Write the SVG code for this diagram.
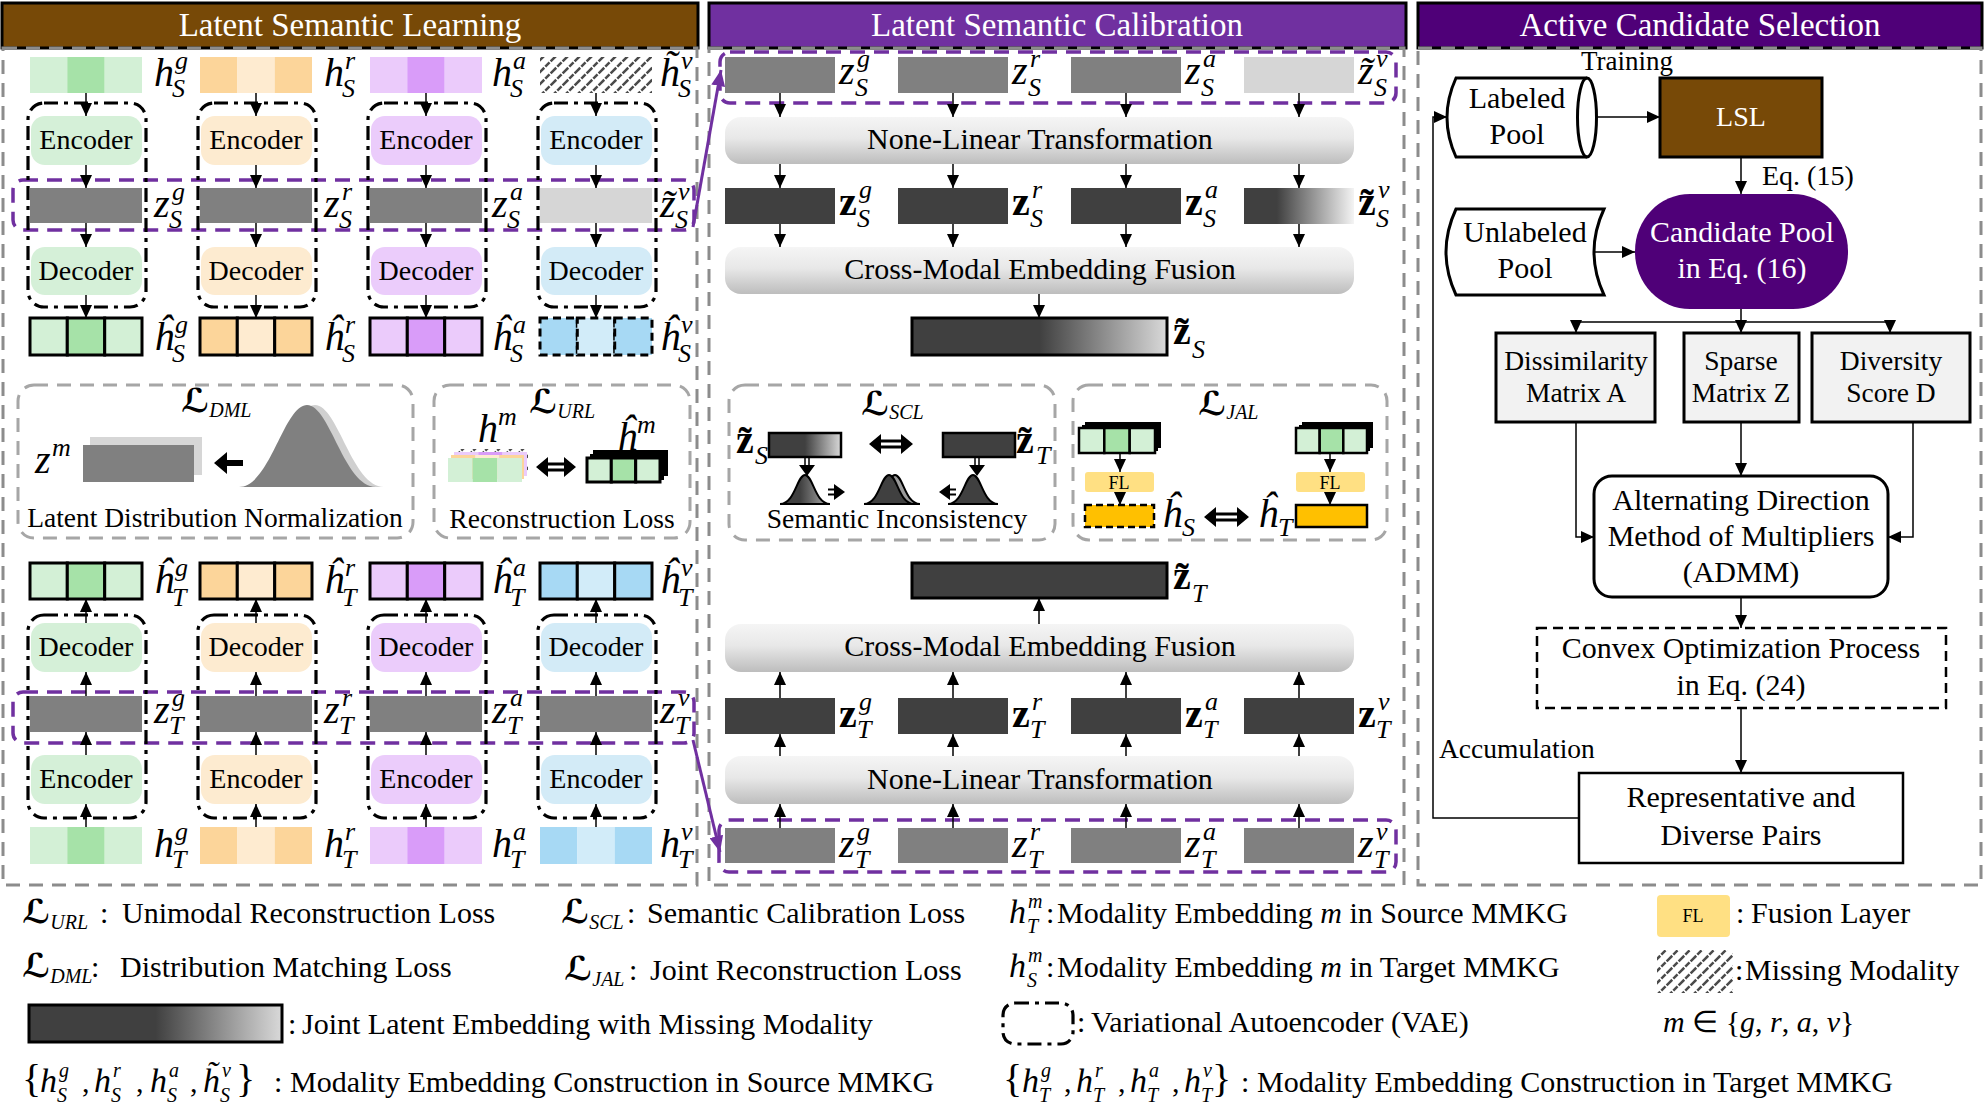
<svg xmlns="http://www.w3.org/2000/svg" width="1986" height="1107" viewBox="0 0 1986 1107">
<defs>
<style>
text{font-family:"Liberation Serif","Times New Roman",serif;fill:#000}
.ttl{font-size:33px;fill:#fff;text-anchor:middle}
.c27{font-size:27.5px;text-anchor:middle}
.c28{font-size:28px;text-anchor:middle}
.c30{font-size:30px;text-anchor:middle}
.lg{font-size:30px}
.mi{font-style:italic;font-size:40px}
.mb{font-weight:bold;font-size:40px}
.sc{font-style:italic;font-weight:normal;font-size:26px}
.lh{font-style:italic;font-size:34px}
.ls{font-style:italic;font-size:20px}
.br{font-size:40px}
.cal{font-family:"DejaVu Serif","DejaVu Sans",serif;font-weight:bold;font-style:italic;font-size:33px}
.cs{font-style:italic;font-weight:normal;font-size:20px}
.panel{fill:none;stroke:#8C8C8C;stroke-width:3;stroke-dasharray:14 9}
.box{fill:none;stroke:#A6A6A6;stroke-width:3;stroke-dasharray:14 9}
.vae{fill:none;stroke:#000;stroke-width:3.2;stroke-dasharray:14 6 4 6}
.pd{fill:none;stroke:#7030A0;stroke-width:3.5;stroke-dasharray:15 9}
.ar{stroke:#000;stroke-width:1.5;fill:none;marker-end:url(#ah)}
.pa{stroke:#7030A0;stroke-width:3;fill:none;marker-end:url(#ap)}
.zg{fill:#808080}
.zl{fill:#D6D6D6}
.zd{fill:#404040}
.tb{stroke:#000;stroke-width:3}
.gl{fill:#D3F0D6}.gm{fill:#A6E2A8}
.ro{fill:#FCD59A}.rl{fill:#FEEBD0}
.al{fill:#EBCBFB}.am{fill:#D99CF9}
.vb{fill:#A7D9F4}.vl{fill:#D2ECF9}
.eg{fill:#D5F0D8}.er{fill:#FDEBD0}.ea{fill:#EBCCFB}.ev{fill:#D3EBF7}
.nb{fill:url(#gbox)}
.ab{fill:#F2F2F2;stroke:#000;stroke-width:3}
.fl{fill:#FFE083}
.fo{fill:#FFC000}
.wt{fill:#fff}
</style>
<marker id="ah" markerUnits="userSpaceOnUse" markerWidth="13" markerHeight="12" refX="13" refY="6" orient="auto"><path d="M0,0L13,6L0,12Z" fill="#000"/></marker>
<marker id="ap" markerUnits="userSpaceOnUse" markerWidth="16" markerHeight="14" refX="16" refY="7" orient="auto"><path d="M0,0L16,7L0,14Z" fill="#7030A0"/></marker>
<linearGradient id="gbox" x1="0" y1="0" x2="0" y2="1"><stop offset="0" stop-color="#F5F5F5"/><stop offset="0.45" stop-color="#E8E8E8"/><stop offset="1" stop-color="#BDBDBD"/></linearGradient>
<linearGradient id="gjoint" x1="0" y1="0" x2="1" y2="0"><stop offset="0" stop-color="#404040"/><stop offset="0.5" stop-color="#404040"/><stop offset="1" stop-color="#D9D9D9"/></linearGradient>
<linearGradient id="gmiss" x1="0" y1="0" x2="1" y2="0"><stop offset="0" stop-color="#404040"/><stop offset="0.3" stop-color="#404040"/><stop offset="1" stop-color="#F4F4F4"/></linearGradient>
<linearGradient id="gbell" x1="0" y1="0" x2="1" y2="0"><stop offset="0" stop-color="#404040"/><stop offset="0.4" stop-color="#404040"/><stop offset="1" stop-color="#B0B0B0"/></linearGradient>
<pattern id="hatch" patternUnits="userSpaceOnUse" width="12" height="12"><path d="M0,12L12,0M-2,2L2,-2M10,14L14,10" stroke="#4A4A4A" stroke-width="2.5" stroke-dasharray="6 1.5"/></pattern>
</defs>
<rect x="0" y="0" width="1986" height="1107" fill="#fff"/>

<g id="title-lsl"><rect x="2" y="3" width="696" height="45" fill="#774907" stroke="#000" stroke-width="3"/><text class="ttl" x="350" y="36">Latent Semantic Learning</text></g>
<g id="title-lsc"><rect x="709" y="3" width="697" height="45" fill="#7030A0" stroke="#000" stroke-width="3"/><text class="ttl" x="1057" y="36">Latent Semantic Calibration</text></g>
<g id="title-acs"><rect x="1418" y="3" width="564" height="45" fill="#4F0078" stroke="#000" stroke-width="3"/><text class="ttl" x="1700" y="36">Active Candidate Selection</text></g>
<g id="panels">
<rect class="panel" x="3" y="48" width="694" height="837"/>
<rect class="panel" x="709" y="48" width="695" height="837"/>
<rect class="panel" x="1418" y="48" width="563" height="837"/>
</g>

<!-- LSL source -->
<g id="src-purple"><rect class="pd" x="13" y="180" width="681" height="50" rx="10"/></g>
<g id="src-vae">
<rect class="vae" x="28" y="103" width="118" height="204" rx="16"/>
<rect class="vae" x="198" y="103" width="118" height="204" rx="16"/>
<rect class="vae" x="368" y="103" width="118" height="204" rx="16"/>
<rect class="vae" x="538" y="103" width="118" height="204" rx="16"/>
</g>
<g id="src-in-g"><rect class="gl" x="30" y="57" width="37.4" height="36"/><rect class="gm" x="67.3" y="57" width="37.4" height="36"/><rect class="gl" x="104.7" y="57" width="37.3" height="36"/></g>
<g id="src-in-r"><rect class="ro" x="200" y="57" width="37.4" height="36"/><rect class="rl" x="237.3" y="57" width="37.4" height="36"/><rect class="ro" x="274.7" y="57" width="37.3" height="36"/></g>
<g id="src-in-a"><rect class="al" x="370" y="57" width="37.4" height="36"/><rect class="am" x="407.3" y="57" width="37.4" height="36"/><rect class="al" x="444.7" y="57" width="37.3" height="36"/></g>
<g id="src-in-v"><rect x="540" y="57" width="112" height="36" fill="url(#hatch)"/></g>
<g id="src-enc-g"><rect class="eg" x="31" y="116" width="111" height="49" rx="14"/><text class="c28" x="86" y="149">Encoder</text></g>
<g id="src-enc-r"><rect class="er" x="201" y="116" width="111" height="49" rx="14"/><text class="c28" x="256" y="149">Encoder</text></g>
<g id="src-enc-a"><rect class="ea" x="371" y="116" width="111" height="49" rx="14"/><text class="c28" x="426" y="149">Encoder</text></g>
<g id="src-enc-v"><rect class="ev" x="541" y="116" width="111" height="49" rx="14"/><text class="c28" x="596" y="149">Encoder</text></g>
<g id="src-z"><rect class="zg" x="30" y="188" width="112" height="35"/><rect class="zg" x="200" y="188" width="112" height="35"/><rect class="zg" x="370" y="188" width="112" height="35"/><rect class="zl" x="540" y="188" width="112" height="35"/></g>
<g id="src-dec-g"><rect class="eg" x="31" y="247" width="111" height="48" rx="14"/><text class="c28" x="86" y="280">Decoder</text></g>
<g id="src-dec-r"><rect class="er" x="201" y="247" width="111" height="48" rx="14"/><text class="c28" x="256" y="280">Decoder</text></g>
<g id="src-dec-a"><rect class="ea" x="371" y="247" width="111" height="48" rx="14"/><text class="c28" x="426" y="280">Decoder</text></g>
<g id="src-dec-v"><rect class="ev" x="541" y="247" width="111" height="48" rx="14"/><text class="c28" x="596" y="280">Decoder</text></g>
<g id="src-out-g" class="tb"><rect class="gl" x="30" y="318" width="37.3" height="37"/><rect class="gm" x="67.3" y="318" width="37.4" height="37"/><rect class="gl" x="104.7" y="318" width="37.3" height="37"/></g>
<g id="src-out-r" class="tb"><rect class="ro" x="200" y="318" width="37.3" height="37"/><rect class="rl" x="237.3" y="318" width="37.4" height="37"/><rect class="ro" x="274.7" y="318" width="37.3" height="37"/></g>
<g id="src-out-a" class="tb"><rect class="al" x="370" y="318" width="37.3" height="37"/><rect class="am" x="407.3" y="318" width="37.4" height="37"/><rect class="al" x="444.7" y="318" width="37.3" height="37"/></g>
<g id="src-out-v" stroke="#000" stroke-width="3" stroke-dasharray="8 5"><rect class="vb" x="540" y="318" width="37.3" height="37"/><rect class="vl" x="577.3" y="318" width="37.4" height="37"/><rect class="vb" x="614.7" y="318" width="37.3" height="37"/></g>
<g id="src-labels">
<text class="mi" x="154" y="86">h<tspan class="sc" x="175" y="69">g</tspan><tspan class="sc" x="172" y="97">S</tspan></text>
<text class="mi" x="324" y="86">h<tspan class="sc" x="345" y="69">r</tspan><tspan class="sc" x="342" y="97">S</tspan></text>
<text class="mi" x="492" y="86">h<tspan class="sc" x="513" y="69">a</tspan><tspan class="sc" x="510" y="97">S</tspan></text>
<text class="mi" x="660" y="86">h̃<tspan class="sc" x="681" y="69">v</tspan><tspan class="sc" x="678" y="97">S</tspan></text>
<text class="mi" x="154" y="217">z<tspan class="sc" x="172" y="200">g</tspan><tspan class="sc" x="169" y="228">S</tspan></text>
<text class="mi" x="324" y="217">z<tspan class="sc" x="342" y="200">r</tspan><tspan class="sc" x="339" y="228">S</tspan></text>
<text class="mi" x="492" y="217">z<tspan class="sc" x="510" y="200">a</tspan><tspan class="sc" x="507" y="228">S</tspan></text>
<text class="mi" x="660" y="217">z̃<tspan class="sc" x="678" y="200">v</tspan><tspan class="sc" x="675" y="228">S</tspan></text>
<text class="mi" x="154" y="350">ĥ<tspan class="sc" x="175" y="333">g</tspan><tspan class="sc" x="172" y="362">S</tspan></text>
<text class="mi" x="324" y="350">ĥ<tspan class="sc" x="345" y="333">r</tspan><tspan class="sc" x="342" y="362">S</tspan></text>
<text class="mi" x="492" y="350">ĥ<tspan class="sc" x="513" y="333">a</tspan><tspan class="sc" x="510" y="362">S</tspan></text>
<text class="mi" x="660" y="350">ĥ<tspan class="sc" x="681" y="333">v</tspan><tspan class="sc" x="678" y="362">S</tspan></text>
</g>

<!-- DML / URL -->
<g id="dml">
<rect class="box" x="18" y="385" width="395" height="153" rx="16"/>
<text x="181" y="412"><tspan class="cal">ℒ</tspan><tspan class="cs" dy="5">DML</tspan></text>
<text class="mi" x="35" y="473">z<tspan class="sc" x="52" y="456">m</tspan></text>
<rect x="90" y="437" width="112" height="38" fill="#D6D6D6"/>
<rect x="83" y="445" width="111" height="37" fill="#808080"/>
<path d="M214,463L227,452V460H243V466H227V474Z" fill="#000"/>
<path d="M247,487C278,487 292,405 315,405C338,405 352,487 384,487Z" fill="#D0D0D0"/>
<path d="M239,487C270,487 284,405 307,405C330,405 344,487 376,487Z" fill="#808080"/>
<text class="c27" x="215" y="527">Latent Distribution Normalization</text>
</g>
<g id="url">
<rect class="box" x="434" y="385" width="256" height="153" rx="16"/>
<text x="529" y="413"><tspan class="cal">ℒ</tspan><tspan class="cs" dy="5">URL</tspan></text>
<text class="mi" x="478" y="442">h<tspan class="sc" x="498" y="425">m</tspan></text>
<text class="mi" x="617" y="450">ĥ<tspan class="sc" x="637" y="433">m</tspan></text>
<rect x="456" y="449" width="72" height="24" fill="url(#hatch)"/>
<rect class="al" x="454" y="452" width="24.3" height="24"/><rect class="am" x="478.3" y="452" width="24.3" height="24"/><rect class="al" x="502.6" y="452" width="24.4" height="24"/>
<rect class="ro" x="451" y="455" width="24.3" height="24"/><rect class="rl" x="475.3" y="455" width="24.3" height="24"/><rect class="ro" x="499.6" y="455" width="24.4" height="24"/>
<rect class="gl" x="448" y="458" width="24.6" height="24"/><rect class="gm" x="472.6" y="458" width="24.7" height="24"/><rect class="gl" x="497.3" y="458" width="24.7" height="24"/>
<rect x="593" y="450" width="75" height="26" fill="#000"/>
<rect x="590" y="454" width="74" height="26" fill="#000"/>
<g class="tb"><rect class="gl" x="587" y="458" width="24.3" height="24"/><rect class="gm" x="611.3" y="458" width="24.4" height="24"/><rect class="gl" x="635.7" y="458" width="24.3" height="24"/></g>
<path d="M547,464H565M547,470H565" stroke="#000" stroke-width="3"/><path d="M536,467L548,457V477ZM576,467L564,457V477Z" fill="#000"/>
<text class="c27" x="562" y="528">Reconstruction Loss</text>
</g>

<!-- LSL target -->
<g id="tgt-purple"><rect class="pd" x="13" y="692" width="681" height="51" rx="10"/></g>
<g id="tgt-vae">
<rect class="vae" x="28" y="615" width="118" height="203" rx="16"/>
<rect class="vae" x="198" y="615" width="118" height="203" rx="16"/>
<rect class="vae" x="368" y="615" width="118" height="203" rx="16"/>
<rect class="vae" x="538" y="615" width="118" height="203" rx="16"/>
</g>
<g id="tgt-out-g" class="tb"><rect class="gl" x="30" y="563" width="37.3" height="36"/><rect class="gm" x="67.3" y="563" width="37.4" height="36"/><rect class="gl" x="104.7" y="563" width="37.3" height="36"/></g>
<g id="tgt-out-r" class="tb"><rect class="ro" x="200" y="563" width="37.3" height="36"/><rect class="rl" x="237.3" y="563" width="37.4" height="36"/><rect class="ro" x="274.7" y="563" width="37.3" height="36"/></g>
<g id="tgt-out-a" class="tb"><rect class="al" x="370" y="563" width="37.3" height="36"/><rect class="am" x="407.3" y="563" width="37.4" height="36"/><rect class="al" x="444.7" y="563" width="37.3" height="36"/></g>
<g id="tgt-out-v" class="tb"><rect class="vb" x="540" y="563" width="37.3" height="36"/><rect class="vl" x="577.3" y="563" width="37.4" height="36"/><rect class="vb" x="614.7" y="563" width="37.3" height="36"/></g>
<g id="tgt-dec-g"><rect class="eg" x="31" y="623" width="111" height="49" rx="14"/><text class="c28" x="86" y="656">Decoder</text></g>
<g id="tgt-dec-r"><rect class="er" x="201" y="623" width="111" height="49" rx="14"/><text class="c28" x="256" y="656">Decoder</text></g>
<g id="tgt-dec-a"><rect class="ea" x="371" y="623" width="111" height="49" rx="14"/><text class="c28" x="426" y="656">Decoder</text></g>
<g id="tgt-dec-v"><rect class="ev" x="541" y="623" width="111" height="49" rx="14"/><text class="c28" x="596" y="656">Decoder</text></g>
<g id="tgt-z"><rect class="zg" x="30" y="696" width="112" height="36"/><rect class="zg" x="200" y="696" width="112" height="36"/><rect class="zg" x="370" y="696" width="112" height="36"/><rect class="zg" x="540" y="696" width="112" height="36"/></g>
<g id="tgt-enc-g"><rect class="eg" x="31" y="755" width="111" height="49" rx="14"/><text class="c28" x="86" y="788">Encoder</text></g>
<g id="tgt-enc-r"><rect class="er" x="201" y="755" width="111" height="49" rx="14"/><text class="c28" x="256" y="788">Encoder</text></g>
<g id="tgt-enc-a"><rect class="ea" x="371" y="755" width="111" height="49" rx="14"/><text class="c28" x="426" y="788">Encoder</text></g>
<g id="tgt-enc-v"><rect class="ev" x="541" y="755" width="111" height="49" rx="14"/><text class="c28" x="596" y="788">Encoder</text></g>
<g id="tgt-in-g"><rect class="gl" x="30" y="827" width="37.4" height="37"/><rect class="gm" x="67.3" y="827" width="37.4" height="37"/><rect class="gl" x="104.7" y="827" width="37.3" height="37"/></g>
<g id="tgt-in-r"><rect class="ro" x="200" y="827" width="37.4" height="37"/><rect class="rl" x="237.3" y="827" width="37.4" height="37"/><rect class="ro" x="274.7" y="827" width="37.3" height="37"/></g>
<g id="tgt-in-a"><rect class="al" x="370" y="827" width="37.4" height="37"/><rect class="am" x="407.3" y="827" width="37.4" height="37"/><rect class="al" x="444.7" y="827" width="37.3" height="37"/></g>
<g id="tgt-in-v"><rect class="vb" x="540" y="827" width="37.4" height="37"/><rect class="vl" x="577.3" y="827" width="37.4" height="37"/><rect class="vb" x="614.7" y="827" width="37.3" height="37"/></g>
<g id="tgt-labels">
<text class="mi" x="154" y="593">ĥ<tspan class="sc" x="175" y="576">g</tspan><tspan class="sc" x="172" y="606">T</tspan></text>
<text class="mi" x="324" y="593">ĥ<tspan class="sc" x="345" y="576">r</tspan><tspan class="sc" x="342" y="606">T</tspan></text>
<text class="mi" x="492" y="593">ĥ<tspan class="sc" x="513" y="576">a</tspan><tspan class="sc" x="510" y="606">T</tspan></text>
<text class="mi" x="660" y="593">ĥ<tspan class="sc" x="681" y="576">v</tspan><tspan class="sc" x="678" y="606">T</tspan></text>
<text class="mi" x="154" y="723">z<tspan class="sc" x="172" y="706">g</tspan><tspan class="sc" x="169" y="734">T</tspan></text>
<text class="mi" x="324" y="723">z<tspan class="sc" x="342" y="706">r</tspan><tspan class="sc" x="339" y="734">T</tspan></text>
<text class="mi" x="492" y="723">z<tspan class="sc" x="510" y="706">a</tspan><tspan class="sc" x="507" y="734">T</tspan></text>
<text class="mi" x="660" y="723">z<tspan class="sc" x="678" y="706">v</tspan><tspan class="sc" x="675" y="734">T</tspan></text>
<text class="mi" x="154" y="857">h<tspan class="sc" x="175" y="840">g</tspan><tspan class="sc" x="172" y="868">T</tspan></text>
<text class="mi" x="324" y="857">h<tspan class="sc" x="345" y="840">r</tspan><tspan class="sc" x="342" y="868">T</tspan></text>
<text class="mi" x="492" y="857">h<tspan class="sc" x="513" y="840">a</tspan><tspan class="sc" x="510" y="868">T</tspan></text>
<text class="mi" x="660" y="857">h<tspan class="sc" x="681" y="840">v</tspan><tspan class="sc" x="678" y="868">T</tspan></text>
</g>

<!-- LSC top -->
<g id="lsc-src-z">
<rect class="pd" x="720" y="52" width="676" height="51" rx="10"/>
<rect class="zg" x="725" y="57" width="110" height="36"/><rect class="zg" x="898" y="57" width="110" height="36"/><rect class="zg" x="1071" y="57" width="110" height="36"/><rect class="zl" x="1244" y="57" width="110" height="36"/>
<text class="mi" x="839" y="84">z<tspan class="sc" x="857" y="67">g</tspan><tspan class="sc" x="855" y="96">S</tspan></text>
<text class="mi" x="1012" y="84">z<tspan class="sc" x="1030" y="67">r</tspan><tspan class="sc" x="1028" y="96">S</tspan></text>
<text class="mi" x="1185" y="84">z<tspan class="sc" x="1203" y="67">a</tspan><tspan class="sc" x="1201" y="96">S</tspan></text>
<text class="mi" x="1358" y="84">z̃<tspan class="sc" x="1376" y="67">v</tspan><tspan class="sc" x="1374" y="96">S</tspan></text>
</g>
<g id="lsc-nlt-s"><rect class="nb" x="725" y="117" width="629" height="47" rx="16"/><text class="c30" x="1040" y="149">None-Linear Transformation</text></g>
<g id="lsc-bz-s">
<rect class="zd" x="725" y="188" width="110" height="36"/><rect class="zd" x="898" y="188" width="110" height="36"/><rect class="zd" x="1071" y="188" width="110" height="36"/><rect x="1244" y="188" width="110" height="36" fill="url(#gmiss)"/>
<text class="mb" x="839" y="215">z<tspan class="sc" x="859" y="198">g</tspan><tspan class="sc" x="857" y="227">S</tspan></text>
<text class="mb" x="1012" y="215">z<tspan class="sc" x="1032" y="198">r</tspan><tspan class="sc" x="1030" y="227">S</tspan></text>
<text class="mb" x="1185" y="215">z<tspan class="sc" x="1205" y="198">a</tspan><tspan class="sc" x="1203" y="227">S</tspan></text>
<text class="mb" x="1358" y="215">z̃<tspan class="sc" x="1378" y="198">v</tspan><tspan class="sc" x="1376" y="227">S</tspan></text>
</g>
<g id="lsc-cmef-s"><rect class="nb" x="725" y="247" width="629" height="47" rx="16"/><text class="c30" x="1040" y="279">Cross-Modal Embedding Fusion</text></g>
<g id="lsc-zs"><rect x="912" y="318" width="255" height="37" fill="url(#gjoint)" stroke="#000" stroke-width="3"/>
<text class="mb" x="1173" y="344">z̃<tspan class="sc" x="1192" y="358">S</tspan></text></g>

<!-- SCL / JAL -->
<g id="scl">
<rect class="box" x="729" y="385" width="326" height="155" rx="16"/>
<text x="861" y="415"><tspan class="cal">ℒ</tspan><tspan class="cs" dy="4">SCL</tspan></text>
<text class="mb" x="736" y="453">z̃<tspan class="sc" x="755" y="464">S</tspan></text>
<rect x="769" y="433" width="72" height="24" fill="url(#gjoint)" stroke="#000" stroke-width="2.5"/>
<path d="M880,441H902M880,447H902" stroke="#000" stroke-width="3"/><path d="M869,444L881,434V454ZM913,444L901,434V454Z" fill="#000"/>
<rect x="943" y="433" width="72" height="24" fill="#404040" stroke="#000" stroke-width="2.5"/>
<text class="mb" x="1016" y="453">z̃<tspan class="sc" x="1036" y="464">T</tspan></text>
<path d="M805,458V466M809,458V466M975,458V466M979,458V466" stroke="#000" stroke-width="1.5"/>
<path d="M799,465H815L807,476ZM969,465H985L977,476Z" fill="#000"/>
<path d="M780,504C795,504 797,475 805,475C813,475 815,504 830,504Z" fill="url(#gbell)" stroke="#000" stroke-width="2"/>
<path d="M870,504C885,504 887,475 895,475C903,475 905,504 920,504Z" fill="#9A9A9A" stroke="#000" stroke-width="2"/>
<path d="M864,504C879,504 881,475 889,475C897,475 899,504 914,504Z" fill="#404040" stroke="#000" stroke-width="2"/>
<path d="M948,504C963,504 965,475 973,475C981,475 983,504 998,504Z" fill="#404040" stroke="#000" stroke-width="2"/>
<path d="M828,489.5H836M828,494.5H836M948,489.5H956M948,494.5H956" stroke="#000" stroke-width="2"/>
<path d="M834,484L845,492L834,500ZM950,484L939,492L950,500Z" fill="#000"/>
<text class="c27" x="897" y="528">Semantic Inconsistency</text>
</g>
<g id="jal">
<rect class="box" x="1073" y="385" width="314" height="155" rx="16"/>
<text x="1198" y="415"><tspan class="cal">ℒ</tspan><tspan class="cs" dy="4">JAL</tspan></text>
<rect x="1085" y="422" width="76" height="26" fill="#000"/>
<rect x="1082" y="425" width="76" height="26" fill="#000"/>
<g stroke="#000" stroke-width="2.5"><rect class="gl" x="1079" y="428" width="25.3" height="25"/><rect class="gm" x="1104.3" y="428" width="25.4" height="25"/><rect class="gl" x="1129.7" y="428" width="25.3" height="25"/></g>
<rect class="fl" x="1085" y="472" width="69" height="20" rx="3"/><text x="1119" y="489" font-size="18" text-anchor="middle">FL</text>
<rect class="fo" x="1085" y="505" width="69" height="22" stroke="#000" stroke-width="2.5" stroke-dasharray="7 4"/>
<text class="mi" x="1162" y="527">ĥ<tspan class="sc" x="1182" y="536">S</tspan></text>
<path d="M1215,514H1238M1215,520H1238" stroke="#000" stroke-width="3"/><path d="M1204,517L1216,507V527ZM1249,517L1237,507V527Z" fill="#000"/>
<text class="mi" x="1258" y="527">ĥ<tspan class="sc" x="1278" y="536">T</tspan></text>
<rect x="1302" y="422" width="71" height="26" fill="#000"/>
<rect x="1299" y="425" width="71" height="26" fill="#000"/>
<g stroke="#000" stroke-width="2.5"><rect class="gl" x="1296" y="428" width="23.7" height="25"/><rect class="gm" x="1319.7" y="428" width="23.6" height="25"/><rect class="gl" x="1343.3" y="428" width="23.7" height="25"/></g>
<rect class="fl" x="1296" y="472" width="69" height="20" rx="3"/><text x="1330" y="489" font-size="18" text-anchor="middle">FL</text>
<rect class="fo" x="1296" y="505" width="71" height="22" stroke="#000" stroke-width="2.5"/>
</g>

<!-- LSC bottom -->
<g id="lsc-zt"><rect x="912" y="563" width="255" height="35" fill="#404040" stroke="#000" stroke-width="3"/>
<text class="mb" x="1173" y="589">z̃<tspan class="sc" x="1192" y="602">T</tspan></text></g>
<g id="lsc-cmef-t"><rect class="nb" x="725" y="624" width="629" height="48" rx="16"/><text class="c30" x="1040" y="656">Cross-Modal Embedding Fusion</text></g>
<g id="lsc-bz-t">
<rect class="zd" x="725" y="698" width="110" height="36"/><rect class="zd" x="898" y="698" width="110" height="36"/><rect class="zd" x="1071" y="698" width="110" height="36"/><rect class="zd" x="1244" y="698" width="110" height="36"/>
<text class="mb" x="839" y="727">z<tspan class="sc" x="859" y="710">g</tspan><tspan class="sc" x="857" y="738">T</tspan></text>
<text class="mb" x="1012" y="727">z<tspan class="sc" x="1032" y="710">r</tspan><tspan class="sc" x="1030" y="738">T</tspan></text>
<text class="mb" x="1185" y="727">z<tspan class="sc" x="1205" y="710">a</tspan><tspan class="sc" x="1203" y="738">T</tspan></text>
<text class="mb" x="1358" y="727">z<tspan class="sc" x="1378" y="710">v</tspan><tspan class="sc" x="1376" y="738">T</tspan></text>
</g>
<g id="lsc-nlt-t"><rect class="nb" x="725" y="756" width="629" height="48" rx="16"/><text class="c30" x="1040" y="789">None-Linear Transformation</text></g>
<g id="lsc-tgt-z">
<rect class="pd" x="719" y="820" width="677" height="52" rx="10"/>
<rect class="zg" x="725" y="828" width="110" height="35"/><rect class="zg" x="898" y="828" width="110" height="35"/><rect class="zg" x="1071" y="828" width="110" height="35"/><rect class="zg" x="1244" y="828" width="110" height="35"/>
<text class="mi" x="839" y="857">z<tspan class="sc" x="857" y="840">g</tspan><tspan class="sc" x="855" y="868">T</tspan></text>
<text class="mi" x="1012" y="857">z<tspan class="sc" x="1030" y="840">r</tspan><tspan class="sc" x="1028" y="868">T</tspan></text>
<text class="mi" x="1185" y="857">z<tspan class="sc" x="1203" y="840">a</tspan><tspan class="sc" x="1201" y="868">T</tspan></text>
<text class="mi" x="1358" y="857">z<tspan class="sc" x="1376" y="840">v</tspan><tspan class="sc" x="1374" y="868">T</tspan></text>
</g>

<!-- ACS -->
<g id="acs-training"><text x="1581" y="70" font-size="27">Training</text></g>
<g id="acs-labeled"><path d="M1456,78H1587A9.5,39.5 0 0 1 1587,157H1456Q1438,117.5 1456,78Z" fill="#fff" stroke="#000" stroke-width="3"/><path d="M1587,78A9.5,39.5 0 0 0 1587,157" fill="none" stroke="#000" stroke-width="3"/>
<text class="c30" x="1517" y="108">Labeled</text><text class="c30" x="1517" y="144">Pool</text></g>
<g id="acs-lsl"><rect x="1660" y="78" width="162" height="79" fill="#774907" stroke="#000" stroke-width="3"/><text class="c28 wt" x="1741" y="126">LSL</text></g>
<g id="acs-eq15"><text x="1762" y="185" font-size="28">Eq. (15)</text></g>
<g id="acs-unlabeled"><path d="M1456,209H1604Q1584,252 1604,295H1456Q1436,252 1456,209Z" fill="#fff" stroke="#000" stroke-width="3"/>
<text class="c30" x="1525" y="242">Unlabeled</text><text class="c30" x="1525" y="278">Pool</text></g>
<g id="acs-candidate"><rect x="1635" y="194" width="213" height="115" rx="55" ry="57" fill="#4F0078"/>
<text class="c30 wt" x="1742" y="242">Candidate Pool</text><text class="c30 wt" x="1742" y="278">in Eq. (16)</text></g>
<g id="acs-dis"><rect class="ab" x="1496" y="333" width="159" height="89"/><text class="c27" x="1576" y="370">Dissimilarity</text><text class="c27" x="1576" y="402">Matrix A</text></g>
<g id="acs-sparse"><rect class="ab" x="1684" y="333" width="115" height="89"/><text class="c27" x="1741" y="370">Sparse</text><text class="c27" x="1741" y="402">Matrix Z</text></g>
<g id="acs-div"><rect class="ab" x="1812" y="333" width="158" height="89"/><text class="c27" x="1891" y="370">Diversity</text><text class="c27" x="1891" y="402">Score D</text></g>
<g id="acs-admm"><rect x="1594" y="476" width="294" height="121" rx="18" fill="#fff" stroke="#000" stroke-width="3"/>
<text class="c30" x="1741" y="510">Alternating Direction</text><text class="c30" x="1741" y="546">Method of Multipliers</text><text class="c30" x="1741" y="582">(ADMM)</text></g>
<g id="acs-convex"><rect x="1537" y="628" width="409" height="80" fill="#fff" stroke="#000" stroke-width="2.5" stroke-dasharray="10 6"/>
<text class="c30" x="1741" y="658">Convex Optimization Process</text><text class="c30" x="1741" y="695">in Eq. (24)</text></g>
<g id="acs-rep"><rect x="1579" y="773" width="324" height="90" fill="#fff" stroke="#000" stroke-width="2.5"/>
<text class="c30" x="1741" y="807">Representative and</text><text class="c30" x="1741" y="845">Diverse Pairs</text></g>
<g id="acs-accum"><text x="1439" y="758" font-size="27.5">Accumulation</text></g>

<!-- connectors -->
<g id="connectors">
<line class="ar" x1="86" y1="93" x2="86" y2="116"/><line class="ar" x1="256" y1="93" x2="256" y2="116"/><line class="ar" x1="426" y1="93" x2="426" y2="116"/><line class="ar" x1="596" y1="93" x2="596" y2="116"/>
<line class="ar" x1="86" y1="165" x2="86" y2="188"/><line class="ar" x1="256" y1="165" x2="256" y2="188"/><line class="ar" x1="426" y1="165" x2="426" y2="188"/><line class="ar" x1="596" y1="165" x2="596" y2="188"/>
<line class="ar" x1="86" y1="223" x2="86" y2="247"/><line class="ar" x1="256" y1="223" x2="256" y2="247"/><line class="ar" x1="426" y1="223" x2="426" y2="247"/><line class="ar" x1="596" y1="223" x2="596" y2="247"/>
<line class="ar" x1="86" y1="295" x2="86" y2="318"/><line class="ar" x1="256" y1="295" x2="256" y2="318"/><line class="ar" x1="426" y1="295" x2="426" y2="318"/><line class="ar" x1="596" y1="295" x2="596" y2="318"/>
<line class="ar" x1="86" y1="827" x2="86" y2="804"/><line class="ar" x1="256" y1="827" x2="256" y2="804"/><line class="ar" x1="426" y1="827" x2="426" y2="804"/><line class="ar" x1="596" y1="827" x2="596" y2="804"/>
<line class="ar" x1="86" y1="755" x2="86" y2="732"/><line class="ar" x1="256" y1="755" x2="256" y2="732"/><line class="ar" x1="426" y1="755" x2="426" y2="732"/><line class="ar" x1="596" y1="755" x2="596" y2="732"/>
<line class="ar" x1="86" y1="696" x2="86" y2="672"/><line class="ar" x1="256" y1="696" x2="256" y2="672"/><line class="ar" x1="426" y1="696" x2="426" y2="672"/><line class="ar" x1="596" y1="696" x2="596" y2="672"/>
<line class="ar" x1="86" y1="623" x2="86" y2="599"/><line class="ar" x1="256" y1="623" x2="256" y2="599"/><line class="ar" x1="426" y1="623" x2="426" y2="599"/><line class="ar" x1="596" y1="623" x2="596" y2="599"/>
<line class="ar" x1="780" y1="93" x2="780" y2="117"/><line class="ar" x1="953" y1="93" x2="953" y2="117"/><line class="ar" x1="1126" y1="93" x2="1126" y2="117"/><line class="ar" x1="1299" y1="93" x2="1299" y2="117"/>
<line class="ar" x1="780" y1="164" x2="780" y2="188"/><line class="ar" x1="953" y1="164" x2="953" y2="188"/><line class="ar" x1="1126" y1="164" x2="1126" y2="188"/><line class="ar" x1="1299" y1="164" x2="1299" y2="188"/>
<line class="ar" x1="780" y1="224" x2="780" y2="247"/><line class="ar" x1="953" y1="224" x2="953" y2="247"/><line class="ar" x1="1126" y1="224" x2="1126" y2="247"/><line class="ar" x1="1299" y1="224" x2="1299" y2="247"/>
<line class="ar" x1="1039" y1="294" x2="1039" y2="318"/>
<line class="ar" x1="1039" y1="624" x2="1039" y2="598"/>
<line class="ar" x1="780" y1="698" x2="780" y2="672"/><line class="ar" x1="953" y1="698" x2="953" y2="672"/><line class="ar" x1="1126" y1="698" x2="1126" y2="672"/><line class="ar" x1="1299" y1="698" x2="1299" y2="672"/>
<line class="ar" x1="780" y1="756" x2="780" y2="734"/><line class="ar" x1="953" y1="756" x2="953" y2="734"/><line class="ar" x1="1126" y1="756" x2="1126" y2="734"/><line class="ar" x1="1299" y1="756" x2="1299" y2="734"/>
<line class="ar" x1="780" y1="828" x2="780" y2="804"/><line class="ar" x1="953" y1="828" x2="953" y2="804"/><line class="ar" x1="1126" y1="828" x2="1126" y2="804"/><line class="ar" x1="1299" y1="828" x2="1299" y2="804"/>
<line class="ar" x1="1120" y1="453" x2="1120" y2="472"/><line class="ar" x1="1120" y1="492" x2="1120" y2="505"/>
<line class="ar" x1="1330" y1="453" x2="1330" y2="472"/><line class="ar" x1="1330" y1="492" x2="1330" y2="505"/>
<line class="pa" x1="693" y1="227" x2="721" y2="70"/>
<line class="pa" x1="693" y1="740" x2="720" y2="852"/>
<polyline class="ar" points="1579,818 1433,818 1433,117 1447,117"/>
<line class="ar" x1="1596" y1="117" x2="1660" y2="117"/>
<line class="ar" x1="1741" y1="157" x2="1741" y2="194"/>
<line class="ar" x1="1594" y1="252" x2="1635" y2="252"/>
<path d="M1741,309V322M1576,322H1890" stroke="#000" stroke-width="1.5" fill="none"/>
<line class="ar" x1="1576" y1="321" x2="1576" y2="333"/><line class="ar" x1="1741" y1="321" x2="1741" y2="333"/><line class="ar" x1="1890" y1="321" x2="1890" y2="333"/>
<polyline class="ar" points="1576,422 1576,537 1594,537"/>
<line class="ar" x1="1741" y1="422" x2="1741" y2="476"/>
<polyline class="ar" points="1913,422 1913,537 1888,537"/>
<line class="ar" x1="1741" y1="597" x2="1741" y2="628"/>
<line class="ar" x1="1741" y1="708" x2="1741" y2="773"/>
</g>

<!-- legend -->
<g id="legend">
<text x="22" y="923"><tspan class="cal">ℒ</tspan><tspan class="cs" dy="6">URL</tspan><tspan class="lg" x="100" y="923">:</tspan><tspan class="lg" x="122" y="923">Unimodal Reconstruction Loss</tspan></text>
<text x="561" y="923"><tspan class="cal">ℒ</tspan><tspan class="cs" dy="6">SCL</tspan><tspan class="lg" x="627" y="923">:</tspan><tspan class="lg" x="647" y="923">Semantic Calibration Loss</tspan></text>
<text x="22" y="977"><tspan class="cal">ℒ</tspan><tspan class="cs" dy="6">DML</tspan><tspan class="lg" x="91" y="977">:</tspan><tspan class="lg" x="120" y="977">Distribution Matching Loss</tspan></text>
<text x="564" y="980"><tspan class="cal">ℒ</tspan><tspan class="cs" dy="6">JAL</tspan><tspan class="lg" x="629" y="980">:</tspan><tspan class="lg" x="650" y="980">Joint Reconstruction Loss</tspan></text>
<rect x="29" y="1005" width="253" height="37" fill="url(#gjoint)" stroke="#000" stroke-width="3"/>
<text class="lg" x="288" y="1034">:<tspan x="302">Joint Latent Embedding with Missing Modality</tspan></text>
<text class="br" x="22" y="1092">{<tspan class="lh" x="40">h</tspan><tspan class="ls" x="59" y="1077">g</tspan><tspan class="ls" x="57" y="1102">S</tspan><tspan class="lg" x="82" y="1092">,</tspan><tspan class="lh" x="94">h</tspan><tspan class="ls" x="113" y="1077">r</tspan><tspan class="ls" x="111" y="1102">S</tspan><tspan class="lg" x="136" y="1092">,</tspan><tspan class="lh" x="150">h</tspan><tspan class="ls" x="169" y="1077">a</tspan><tspan class="ls" x="167" y="1102">S</tspan><tspan class="lg" x="190" y="1092">,</tspan><tspan class="lh" x="203">h̃</tspan><tspan class="ls" x="222" y="1077">v</tspan><tspan class="ls" x="220" y="1102">S</tspan><tspan x="236" y="1092">}</tspan><tspan class="lg" x="274">:</tspan><tspan class="lg" x="290">Modality Embedding Construction in Source MMKG</tspan></text>

<text class="lh" x="1009" y="923">h<tspan class="ls" x="1028" y="908">m</tspan><tspan class="ls" x="1027" y="933">T</tspan><tspan class="lg" font-style="normal" x="1046" y="923">:</tspan><tspan class="lg" font-style="normal" x="1057">Modality Embedding <tspan font-style="italic">m</tspan> in Source MMKG</tspan></text>
<rect class="fl" x="1657" y="895" width="73" height="42" rx="4"/><text x="1693" y="922" font-size="18" text-anchor="middle">FL</text>
<text class="lg" x="1736" y="923">:<tspan x="1751">Fusion Layer</tspan></text>
<text class="lh" x="1009" y="977">h<tspan class="ls" x="1028" y="962">m</tspan><tspan class="ls" x="1027" y="987">S</tspan><tspan class="lg" font-style="normal" x="1046" y="977">:</tspan><tspan class="lg" font-style="normal" x="1057">Modality Embedding <tspan font-style="italic">m</tspan> in Target MMKG</tspan></text>
<rect x="1657" y="950" width="76" height="43" fill="url(#hatch)"/>
<text class="lg" x="1735" y="980">:<tspan x="1745">Missing Modality</tspan></text>
<rect class="vae" x="1003" y="1003" width="70" height="41" rx="12"/>
<text class="lg" x="1077" y="1032">:<tspan x="1091">Variational Autoencoder (VAE)</tspan></text>
<text class="lg" x="1663" y="1032"><tspan font-style="italic">m</tspan> ∈ {<tspan font-style="italic">g</tspan>, <tspan font-style="italic">r</tspan>, <tspan font-style="italic">a</tspan>, <tspan font-style="italic">v</tspan>}</text>
<text class="br" x="1003" y="1092">{<tspan class="lh" x="1022">h</tspan><tspan class="ls" x="1041" y="1077">g</tspan><tspan class="ls" x="1039" y="1102">T</tspan><tspan class="lg" x="1064" y="1092">,</tspan><tspan class="lh" x="1076">h</tspan><tspan class="ls" x="1095" y="1077">r</tspan><tspan class="ls" x="1093" y="1102">T</tspan><tspan class="lg" x="1118" y="1092">,</tspan><tspan class="lh" x="1130">h</tspan><tspan class="ls" x="1149" y="1077">a</tspan><tspan class="ls" x="1147" y="1102">T</tspan><tspan class="lg" x="1172" y="1092">,</tspan><tspan class="lh" x="1184">h</tspan><tspan class="ls" x="1203" y="1077">v</tspan><tspan class="ls" x="1201" y="1102">T</tspan><tspan x="1212" y="1092">}</tspan><tspan class="lg" x="1241">:</tspan><tspan class="lg" x="1257">Modality Embedding Construction in Target MMKG</tspan></text>
</g>
</svg>
